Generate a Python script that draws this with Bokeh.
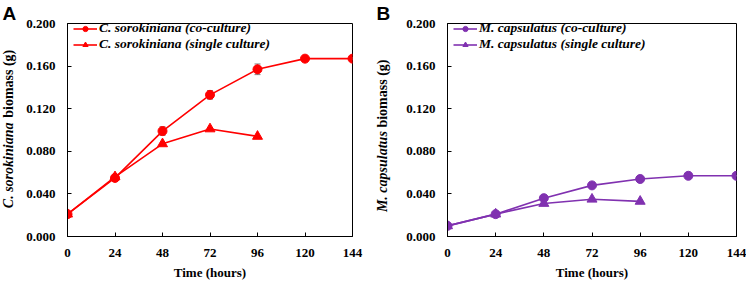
import math
from bokeh.plotting import figure
from bokeh.models import (ColumnDataSource, Whisker, FixedTicker,
                          NumeralTickFormatter, Legend, LegendItem, Range1d)
from bokeh.core.properties import value
from bokeh.layouts import row
from bokeh.embed import file_html
from bokeh.resources import INLINE

# ---------------- data ----------------
time_co = [0, 24, 48, 72, 96, 120, 144]
time_single = [0, 24, 48, 72, 96]

cs_co = [0.021, 0.055, 0.099, 0.133, 0.157, 0.167, 0.167]
cs_co_err = [0.001, 0.002, 0.004, 0.004, 0.005, 0.001, 0.001]
cs_single = [0.021, 0.056, 0.087, 0.101, 0.094]

mc_co = [0.010, 0.021, 0.036, 0.048, 0.054, 0.057, 0.057]
mc_co_err = [0.0, 0.0, 0.0, 0.0, 0.0, 0.0, 0.0]
mc_single = [0.010, 0.021, 0.031, 0.035, 0.033]

x_ticks = [0, 24, 48, 72, 96, 120, 144]
y_ticks = [0.0, 0.04, 0.08, 0.12, 0.16, 0.2]

# ---------------- layout ----------------
H = 282
BT = 21
BB = 43
FH = H - BT - BB
LW = 18  # width of the strip holding the panel letter and rotated y title
SERIF = "Liberation Serif"


def title_strip(letter, sp_italic, ylab_start, ylab_gap):
    """Narrow strip (frame aligned with the panel): letter + two-style y title."""
    s = figure(width=LW, height=H, x_range=Range1d(0, LW),
               y_range=Range1d(H - BT - FH, H - BT), output_backend="svg",
               toolbar_location=None, min_border_left=0,
               min_border_right=0, min_border_top=BT, min_border_bottom=BB,
               x_axis_type=None, y_axis_type=None)
    s.title.text = letter
    s.title.align = "left"
    s.title.offset = 2
    s.title.standoff = 0
    s.title.text_font = "Liberation Sans"
    s.title.text_font_style = "bold"
    s.title.text_font_size = "19px"
    s.title.text_color = "black"
    s.xgrid.visible = False
    s.ygrid.visible = False
    s.outline_line_color = None
    s.text(x=[8], y=[H - ylab_start], text=[sp_italic], angle=math.pi / 2,
           text_align="left", text_baseline="middle",
           text_font=value(SERIF), text_font_style="bold italic",
           text_font_size="14px", text_color="black")
    s.text(x=[8], y=[H - ylab_start + ylab_gap], text=["biomass (g)"],
           angle=math.pi / 2, text_align="left", text_baseline="middle",
           text_font=value(SERIF), text_font_style="bold",
           text_font_size="14px", text_color="black")
    return s


def panel(sp_italic, co, co_err, single, color, width, bl, br):
    x0, x1 = x_ticks[0], x_ticks[-1]
    y0, y1 = y_ticks[0], y_ticks[-1]

    p = figure(width=width, height=H, x_range=Range1d(x0, x1),
               y_range=Range1d(y0, y1), output_backend="svg", title=None,
               toolbar_location=None, min_border_left=bl,
               min_border_right=br, min_border_top=BT, min_border_bottom=BB)
    p.xgrid.visible = False
    p.ygrid.visible = False
    p.outline_line_color = "black"
    p.outline_line_alpha = 1.0
    p.outline_line_width = 1

    for ax in (p.xaxis[0], p.yaxis[0]):
        ax.major_tick_in = 4
        ax.major_tick_out = 0
        ax.minor_tick_in = 0
        ax.minor_tick_out = 0
        ax.axis_line_color = "black"
        ax.major_tick_line_color = "black"
        ax.major_label_text_font = SERIF
        ax.major_label_text_font_style = "bold"
        ax.major_label_text_font_size = "13px"
        ax.major_label_text_color = "black"
    p.xaxis.ticker = FixedTicker(ticks=x_ticks)
    p.yaxis.ticker = FixedTicker(ticks=y_ticks)
    p.yaxis.formatter = NumeralTickFormatter(format="0.000")
    p.yaxis.major_label_standoff = 12
    p.xaxis.major_label_standoff = 12
    p.xaxis.axis_label = "Time (hours)"
    p.xaxis.axis_label_text_font = SERIF
    p.xaxis.axis_label_text_font_style = "bold"
    p.xaxis.axis_label_text_font_size = "13px"
    p.xaxis.axis_label_text_color = "black"
    p.xaxis.axis_label_standoff = 5

    # error bars
    src = ColumnDataSource(dict(x=time_co,
                                upper=[v + e for v, e in zip(co, co_err)],
                                lower=[v - e for v, e in zip(co, co_err)]))
    w = Whisker(base="x", upper="upper", lower="lower", source=src,
                line_color="#7f7f7f", line_width=1)
    w.upper_head.size = 6
    w.lower_head.size = 6
    w.upper_head.line_color = "#7f7f7f"
    w.lower_head.line_color = "#7f7f7f"

    l1 = p.line(time_co, co, line_color=color, line_width=1.6)
    m1 = p.scatter(time_co, co, marker="circle", size=9,
                   fill_color=color, line_color=color)
    l2 = p.line(time_single, single, line_color=color, line_width=1.6)
    m2 = p.scatter(time_single, single, marker="triangle", size=10,
                   fill_color=color, line_color=color)
    p.add_layout(w)

    legend = Legend(items=[
        LegendItem(label=f"{sp_italic} (co-culture)", renderers=[l1, m1]),
        LegendItem(label=f"{sp_italic} (single culture)", renderers=[l2, m2]),
    ], location=(6, FH - 34))
    legend.border_line_color = None
    legend.background_fill_alpha = 0
    legend.glyph_width = 24
    legend.glyph_height = 13
    legend.label_height = 13
    legend.spacing = -8
    legend.padding = 0
    legend.margin = 0
    legend.label_standoff = 2
    legend.label_text_font = SERIF
    legend.label_text_font_style = "bold italic"
    legend.label_text_font_size = "13.5px"
    legend.label_text_color = "black"
    p.add_layout(legend)
    return p


sa = title_strip("A", "C. sorokiniana", 210, 92.5)
pa = panel("C. sorokiniana", cs_co, cs_co_err, cs_single, "#ff0000",
           374 - LW, 67 - LW, 22)
sb = title_strip("B", "M. capsulatus", 214, 86.5)
pb = panel("M. capsulatus", mc_co, mc_co_err, mc_single, "#8031b0",
           372 - LW, 73 - LW, 10)

layout = row(sa, pa, sb, pb)
open("out.html", "w").write(file_html(layout, INLINE))
